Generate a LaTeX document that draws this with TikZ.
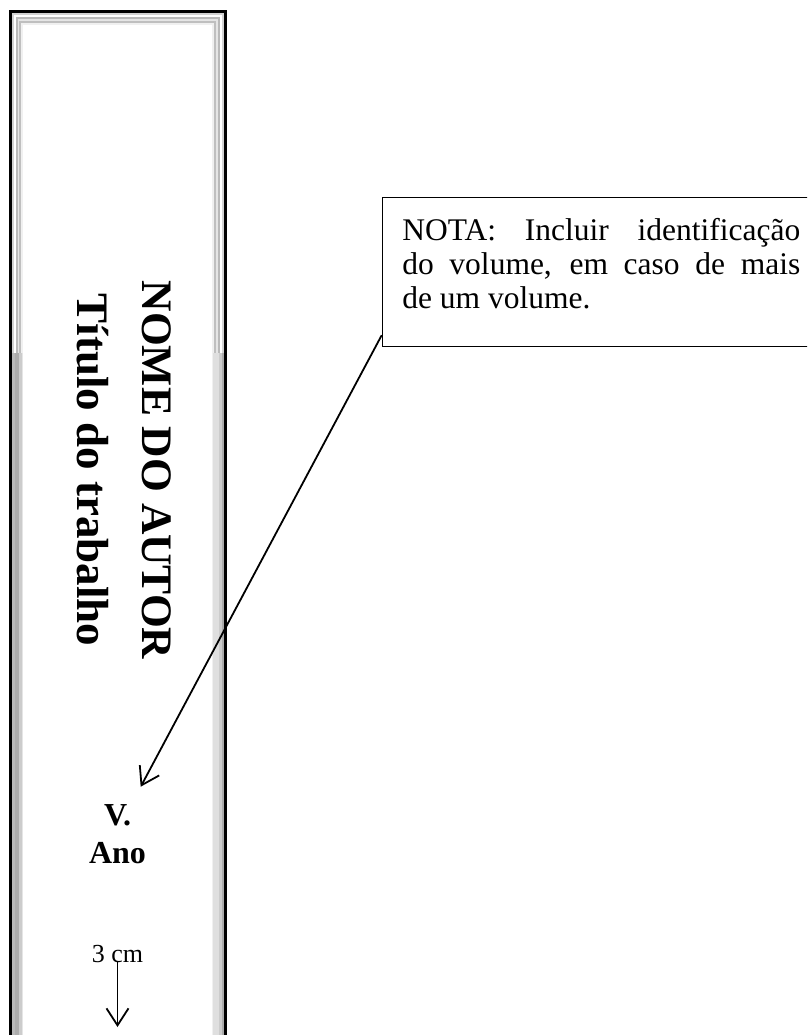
\documentclass[tikz,border=0pt]{standalone}
\usepackage{fontspec}
\setmainfont{Liberation Serif}
\usetikzlibrary{arrows.meta}
\begin{document}
\begin{tikzpicture}[x=1pt,y=-1pt,
  seta/.style={line width=1.8pt,-{Straight Barb[length=17pt,width=22pt,line width=1.8pt]}},
  lombada/.style={rotate=-90,anchor=base,inner sep=0pt,font=\bfseries\fontsize{43.5}{50}\selectfont},
  rotulo/.style={anchor=base,inner sep=0pt,font=\bfseries\fontsize{32}{38}\selectfont}]
\useasboundingbox (0,0) rectangle (807,1035);
\clip (0,0) rectangle (807,1035);
\draw[black,line width=2.8pt] (10.4,11.9) rectangle (225.1,1060);
\foreach \d/\c in {3.8/gray!35,5.8/white,7.8/gray!55,9.6/gray!20,11.4/gray!50,13.2/gray!12}{
  \draw[\c,line width=2pt] (9+\d,10.5+\d) rectangle (226.5-\d,1060);
}
\fill[gray!55] (11.8,352.7) rectangle (15,1060);
\fill[gray!65] (15,352.7) rectangle (19,1060);
\fill[gray!40] (19,352.7) rectangle (21.5,1060);
\fill[gray!20] (21.5,352.7) rectangle (23.2,1060);
\fill[gray!25] (212.5,352.7) rectangle (218.5,1060);
\fill[gray!40] (218.5,352.7) rectangle (221.5,1060);
\fill[gray!65] (221.5,352.7) rectangle (223.7,1060);
\node[lombada] (autor) at (142,470) {NOME DO AUTOR};
\node[lombada,font=\bfseries\fontsize{45}{50}\selectfont] (titulo) at (77,470) {Título do trabalho};
\node[rotulo] (vol) at (117.5,825) {V.};
\node[rotulo] (ano) at (117.5,863) {Ano};
\node[anchor=base,inner sep=0pt,font=\fontsize{26}{30}\selectfont] (medida) at (117.5,962) {3 cm};
\coordinate (fim) at (117.5,1027);
\draw[seta] (medida.south) -- (fim);
\node[draw,line width=1.2pt,anchor=north west,inner xsep=20pt,inner ysep=0pt,text width=398pt,align=justify,
  font=\fontsize{31.5}{34}\selectfont] (nota) at (381.7,197)
  {\spaceskip=.25em plus 3em minus .05em\hyphenpenalty=10000
   \rule{0pt}{43pt}NOTA: Incluir identificação\linebreak do volume, em caso de mais\linebreak de um volume.\rule[-38pt]{0pt}{38pt}};
\coordinate (ponta) at (140.7,786.7);
\draw[seta] ([yshift=12pt]nota.south west) -- (ponta);
\end{tikzpicture}
\end{document}
